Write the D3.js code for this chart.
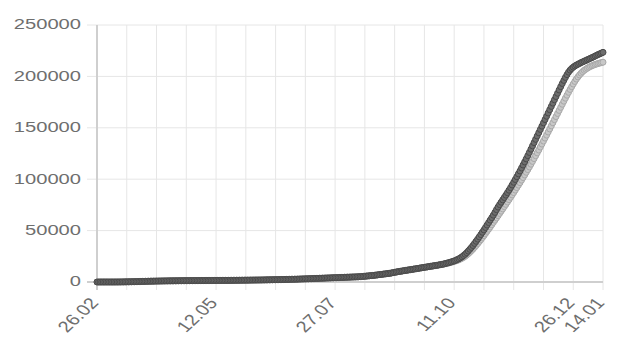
<!DOCTYPE html>
<html>
<head>
<meta charset="utf-8">
<script src="https://cdn.jsdelivr.net/npm/d3@7"></script>
<style>
  html, body { margin: 0; padding: 0; background: #fff; }
  svg { display: block; }
  text { font-family: "Liberation Sans", Arial, sans-serif; fill: #6e6e6e; }
</style>
</head>
<body>
<svg id="chart" width="618" height="354"></svg>
<script>
// ---- data ----
const startDate = "2020-02-26";
const yTicks = [0, 50000, 100000, 150000, 200000, 250000];
const tickDates = ["2020-02-26", "2020-05-12", "2020-07-27", "2020-10-11", "2020-12-26", "2021-01-14"];
const tickLabels = ["26.02", "12.05", "27.07", "11.10", "26.12", "14.01"];
const gridStepDays = 19;

// dark series (daily, from 26.02)
const seriesDark = [
0,0,1,1,1,1,3,3,5,7,
10,15,20,30,45,60,80,100,130,160,
190,220,250,280,320,360,400,450,500,550,
600,640,680,720,760,800,830,860,890,920,
950,980,1010,1040,1060,1080,1100,1120,1140,1160,
1180,1200,1220,1240,1260,1280,1300,1310,1320,1330,
1340,1350,1360,1370,1380,1390,1400,1410,1420,1430,
1440,1450,1460,1470,1480,1490,1500,1510,1520,1530,
1540,1550,1560,1570,1580,1590,1600,1620,1640,1660,
1680,1700,1720,1740,1760,1780,1800,1820,1840,1860,
1880,1900,1920,1940,1960,1990,2020,2050,2080,2110,
2140,2170,2200,2230,2260,2290,2320,2350,2380,2410,
2440,2480,2520,2560,2600,2640,2680,2720,2780,2840,
2900,2950,3000,3050,3100,3160,3220,3280,3340,3400,
3460,3520,3580,3640,3700,3760,3820,3880,3940,4000,
4060,4120,4180,4240,4300,4360,4420,4480,4540,4600,
4660,4720,4780,4840,4900,4960,5000,5100,5200,5300,
5450,5600,5750,5900,6050,6200,6350,6500,6700,6900,
7100,7300,7500,7700,7900,8100,8300,8500,8800,9100,
9400,9700,10000,10250,10500,10750,11000,11250,11500,11750,
12000,12250,12500,12750,13000,13250,13500,13750,14000,14250,
14500,14750,15000,15250,15500,15750,16000,16250,16500,16800,
17100,17400,17800,18200,18600,19000,19500,20000,20500,21100,
21800,22600,23500,24500,25700,27000,28500,30100,31800,33600,
35500,37500,39600,41700,43900,46100,48400,50700,53000,55400,
57800,60200,62600,65000,67700,70400,72900,75300,77600,79900,
82200,84500,86900,89300,91800,94400,97000,99700,102400,105200,
108000,110900,113800,116800,119800,122900,126000,129200,132400,135600,
138800,142000,145200,148400,151600,154800,158000,161200,164400,167600,
170800,174000,177200,180400,183600,186800,190000,193100,196100,199000,
201700,204100,206100,207700,209000,210100,211000,211800,212600,213400,
214100,214800,215500,216200,216900,217600,218300,219000,219800,220600,
221300,222000,222700,223400
];

// light series (daily, from 26.02)
const seriesLight = [
0,0,1,1,1,1,3,3,5,7,
10,15,20,30,45,60,80,100,130,160,
190,220,250,280,320,360,400,450,500,550,
600,640,680,720,760,800,830,860,890,920,
950,980,1010,1040,1060,1080,1100,1120,1140,1160,
1180,1200,1220,1240,1260,1280,1300,1310,1320,1330,
1340,1350,1360,1370,1380,1390,1400,1410,1420,1430,
1440,1450,1460,1470,1480,1490,1500,1510,1520,1530,
1540,1550,1560,1570,1580,1590,1600,1620,1640,1660,
1680,1700,1720,1740,1760,1780,1800,1820,1840,1860,
1880,1900,1920,1940,1960,1990,2020,2050,2080,2110,
2140,2170,2200,2230,2260,2290,2320,2350,2380,2410,
2440,2480,2520,2560,2600,2640,2680,2720,2780,2840,
2900,2950,3000,3050,3100,3160,3220,3280,3340,3400,
3460,3520,3580,3640,3700,3760,3820,3880,3940,4000,
4060,4120,4180,4240,4300,4360,4420,4480,4540,4600,
4660,4720,4780,4840,4900,4960,5000,5100,5200,5300,
5450,5600,5750,5900,6050,6200,6350,6500,6700,6900,
7100,7300,7500,7700,7900,8100,8300,8500,8800,9100,
9400,9700,10000,10250,10500,10750,11000,11250,11500,11750,
12000,12250,12500,12750,13000,13250,13500,13750,14000,14250,
14500,14750,15000,15250,15500,15750,16000,16250,16500,16800,
17000,17300,17600,17900,18300,18700,19100,19500,20000,20500,
21000,21600,22300,23100,24000,25000,26200,27500,28900,30400,
32000,33700,35500,37300,39200,41100,43100,45100,47200,49300,
51400,53500,55700,57900,60100,62300,64500,66700,68900,71100,
73300,75500,77800,80100,82400,84700,87000,89400,91800,94200,
96600,99100,101600,104100,106700,109300,111900,114600,117300,120000,
122800,125600,128400,131300,134200,137100,140000,142900,145900,148900,
151900,154900,157900,160900,163900,166900,169900,172900,175900,178800,
181700,184500,187300,190000,192600,195100,197400,199500,201400,203100,
204600,205900,207000,208000,208900,209700,210400,211000,211600,212100,
212600,213000,213400,213800
];

// ---- layout ----
const svg = d3.select("#chart");
const margin = { left: 97, right: 15, top: 25, bottom: 72 };
const W = 618, H = 354;
const parse = d3.timeParse("%Y-%m-%d");
const t0 = parse(startDate);
const dayDate = i => d3.timeDay.offset(t0, i);
const tEnd = dayDate(seriesDark.length - 1);

const x = d3.scaleTime().domain([t0, tEnd]).range([margin.left, W - margin.right]);
const y = d3.scaleLinear().domain([0, 250000]).range([H - margin.bottom, margin.top]);

const gridDates = d3.range(0, seriesDark.length, gridStepDays).map(dayDate);
if (+gridDates[gridDates.length - 1] !== +tEnd) gridDates.push(tEnd);

// vertical grid lines (extend below axis as ticks)
svg.append("g").selectAll("line").data(gridDates).join("line")
  .attr("x1", d => x(d)).attr("x2", d => x(d))
  .attr("y1", y(250000)).attr("y2", y(0) + 8)
  .attr("stroke", "#e6e6e6").attr("stroke-width", 1);

// horizontal grid lines (extend left as ticks)
svg.append("g").selectAll("line").data(yTicks).join("line")
  .attr("x1", margin.left - 10).attr("x2", W - margin.right)
  .attr("y1", d => y(d)).attr("y2", d => y(d))
  .attr("stroke", d => d === 0 ? "#cfcfcf" : "#e6e6e6")
  .attr("stroke-width", d => d === 0 ? 2 : 1);

// y axis line
svg.append("line")
  .attr("x1", margin.left).attr("x2", margin.left)
  .attr("y1", y(250000)).attr("y2", y(0) + 8)
  .attr("stroke", "#cfcfcf").attr("stroke-width", 2);

// y labels
svg.append("g").selectAll("text").data(yTicks).join("text")
  .attr("transform", d => `translate(${margin.left - 16},${y(d) - 1}) scale(1.3,1)`)
  .attr("text-anchor", "end").attr("dy", "0.35em")
  .style("font-size", "15.5px")
  .text(d => d);

// x labels
svg.append("g").selectAll("text").data(tickDates).join("text")
  .attr("transform", d => `translate(${x(parse(d)) - 3},${y(0) + 18}) scale(1.3,1) rotate(-50)`)
  .attr("text-anchor", "end").attr("dy", "0.35em")
  .style("font-size", "15.5px")
  .text((d, i) => tickLabels[i]);

// series
const line = d3.line().x((d, i) => x(dayDate(i))).y(d => y(d));
function drawSeries(data, stroke, fill, border) {
  const g = svg.append("g");
  g.append("path").datum(data).attr("d", line)
    .attr("fill", "none").attr("stroke", stroke).attr("stroke-width", 3);
  g.selectAll("circle").data(data).join("circle")
    .attr("cx", (d, i) => x(dayDate(i))).attr("cy", d => y(d))
    .attr("r", 3).attr("fill", fill).attr("stroke", border).attr("stroke-width", 1);
}
drawSeries(seriesLight, "#b4b4b4", "#c8c8c8", "#a8a8a8");
drawSeries(seriesDark, "#4e4e4e", "#6e6e6e", "#4a4a4a");
</script>
</body>
</html>
